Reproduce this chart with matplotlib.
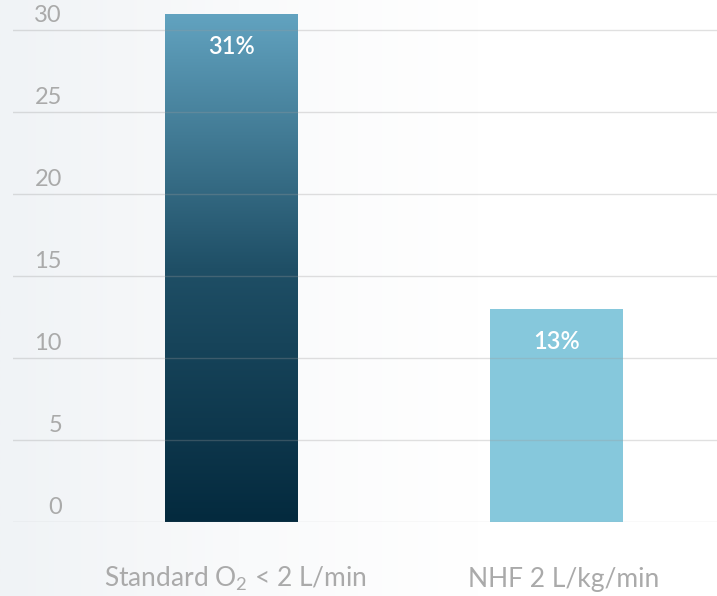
import numpy as np
import matplotlib
matplotlib.use("Agg")
import matplotlib.pyplot as plt
from matplotlib.colors import LinearSegmentedColormap

categories = ["Standard O$_2$ < 2 L/min", "NHF 2 L/kg/min"]
values = [31, 13]
value_labels = ["31%", "13%"]
yticks = [0, 5, 10, 15, 20, 25, 30]

plt.rcParams['font.family'] = ['Lato', 'DejaVu Sans']
plt.rcParams['mathtext.fontset'] = 'custom'
plt.rcParams['mathtext.rm'] = 'Lato'
plt.rcParams['mathtext.it'] = 'Lato'

W, H = 717, 596
fig = plt.figure(figsize=(W / 100, H / 100), dpi=100)
fig.patch.set_facecolor('white')

# background subtle gradient
bg = fig.add_axes([0, 0, 1, 1], zorder=-10)
grad = np.linspace(0, 1, 256)[None, :]
bg_cmap = LinearSegmentedColormap.from_list('bg', ['#f0f3f6', '#f9fafb', '#ffffff', '#ffffff'])
bg.imshow(grad, aspect='auto', cmap=bg_cmap, extent=[0, 1, 0, 1])
bg.axis('off')

left, right = 13 / W, 717 / W
bottom, top = 1 - 522 / H, 1.0
ax = fig.add_axes([left, bottom, right - left, top - bottom])
ax.patch.set_alpha(0)

x = np.arange(len(categories))
ppu = 16.4
xlim = ((13 - 231.5) / 325, (717 - 231.5) / 325)
ylim = (0, 522 / ppu)

bars = ax.bar(x, values, width=133 / 325, color=['none', '#86c8dc'], zorder=2)

# gradient fill for the first bar
b = bars[0]
bx, by, bw, bh = b.get_x(), b.get_y(), b.get_width(), b.get_height()
bar_cmap = LinearSegmentedColormap.from_list('bar', ['#042a3e', '#1f4f66', '#62a3c0'])
vg = np.linspace(0, 1, 256)[:, None]
im = ax.imshow(vg, aspect='auto', cmap=bar_cmap, origin='lower',
               extent=[bx, bx + bw, by, by + bh], zorder=2)
im.set_clip_path(b)
ax.set_xlim(*xlim)
ax.set_ylim(*ylim)

# gridlines and tick labels
for t in yticks:
    ax.axhline(t, color='#9a9a9a', alpha=0.3, lw=1, zorder=3)
    ax.annotate(str(t), xy=(0, t), xycoords=('axes fraction', 'data'),
                xytext=(49, 4), textcoords='offset pixels',
                ha='right', va='bottom', color='#aaaaaa', fontsize=17)

for xi, v, lab in zip(x, values, value_labels):
    ax.annotate(lab, xy=(xi, v), xytext=(0, -33), textcoords='offset pixels',
                ha='center', va='center', color='white', fontsize=17,
                fontweight='semibold', zorder=4)

for xi, cat in zip(x, categories):
    ax.annotate(cat, xy=(xi, 0), xytext=(4 if xi == 0 else 7, -57),
                textcoords='offset pixels', ha='center', va='center',
                color='#aaaaaa', fontsize=19)

ax.set_xticks([])
ax.set_yticks([])
for s in ax.spines.values():
    s.set_visible(False)

fig.savefig('out.png', dpi=100, facecolor=fig.get_facecolor())
